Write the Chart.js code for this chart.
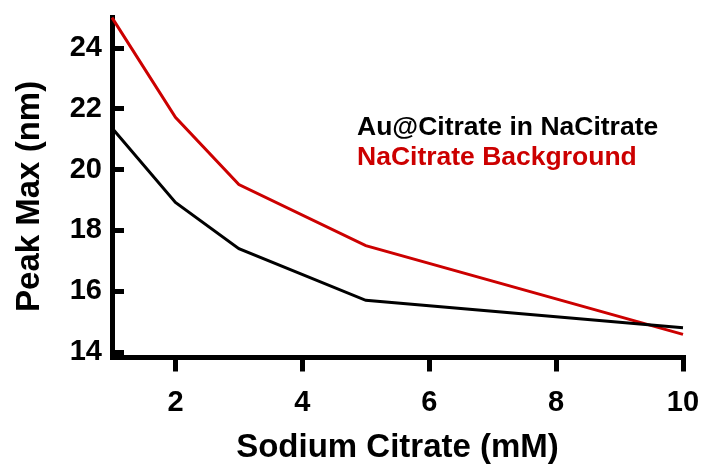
<!DOCTYPE html>
<html>
<head>
<meta charset="utf-8">
<script src="https://cdn.jsdelivr.net/npm/chart.js@4/dist/chart.umd.min.js"></script>
<style>
  html, body { margin: 0; padding: 0; background: #fff; }
  #wrap { width: 701px; height: 468px; position: relative; }
</style>
</head>
<body>
<div id="wrap"><canvas id="c" width="701" height="468"></canvas></div>
<script>
// Sodium citrate concentration (mM)
const concentrations = [1, 2, 3, 5, 10];
// Peak maximum (nm) of gold nanoparticles dispersed in sodium citrate
const auCitratePeak = [21.37, 18.92, 17.40, 15.70, 14.80];
// Peak maximum (nm) of the sodium citrate background alone
const backgroundPeak = [25.00, 21.72, 19.51, 17.50, 14.58];

const seriesLabels = ['Au@Citrate in NaCitrate', 'NaCitrate Background'];
const seriesColors = ['#000000', '#CC0000'];

const xTicks = [2, 4, 6, 8, 10];
const yTicks = [14, 16, 18, 20, 22, 24];

const FONT = '"Liberation Sans", Arial, Helvetica, sans-serif';

const toPoints = (ys) => concentrations.map((x, i) => ({ x, y: ys[i] }));

// Fixed scale sizes; no extra room reserved for overhanging tick labels
const fixSize = (prop, size) => (s) => {
  s[prop] = size;
  s.paddingTop = 0; s.paddingBottom = 0; s.paddingLeft = 0; s.paddingRight = 0;
};

// Colored legend text drawn inside the plot area
const textLegend = {
  id: 'textLegend',
  afterDatasetsDraw(chart) {
    const { ctx, chartArea } = chart;
    ctx.save();
    ctx.font = 'bold 26.5px ' + FONT;
    ctx.textAlign = 'left';
    ctx.textBaseline = 'alphabetic';
    chart.data.datasets.forEach((ds, i) => {
      ctx.fillStyle = ds.borderColor;
      ctx.fillText(ds.label, chartArea.left + 245, chartArea.top + 118 + i * 30);
    });
    ctx.restore();
  }
};

new Chart(document.getElementById('c'), {
  type: 'line',
  data: {
    datasets: [
      {
        label: seriesLabels[0],
        data: toPoints(auCitratePeak),
        borderColor: seriesColors[0],
        borderWidth: 3,
        pointRadius: 0,
        tension: 0,
        clip: false
      },
      {
        label: seriesLabels[1],
        data: toPoints(backgroundPeak),
        borderColor: seriesColors[1],
        borderWidth: 3,
        pointRadius: 0,
        tension: 0,
        clip: false
      }
    ]
  },
  options: {
    responsive: false,
    animation: false,
    layout: { padding: { top: 17, right: 18, left: 0, bottom: 0 } },
    plugins: { legend: { display: false }, tooltip: { enabled: false } },
    scales: {
      x: {
        type: 'linear',
        min: 1,
        max: 10,
        afterBuildTicks: (s) => { s.ticks = xTicks.map(v => ({ value: v })); },
        afterFit: fixSize('height', 110.5),
        border: { display: true, color: '#000', width: 5 },
        grid: { drawOnChartArea: false, color: '#000', tickColor: '#000', tickWidth: 5, lineWidth: 5, tickLength: 14 },
        ticks: { color: '#000', padding: 14, maxRotation: 0, font: { family: FONT, size: 29, weight: 'bold' } },
        title: { display: true, text: 'Sodium Citrate (mM)', color: '#000', padding: { top: 0, bottom: 0 }, font: { family: FONT, size: 33, weight: 'bold' } }
      },
      y: {
        type: 'linear',
        min: 13.82,
        max: 25.02,
        afterBuildTicks: (s) => { s.ticks = yTicks.map(v => ({ value: v })); },
        afterFit: fixSize('width', 112),
        border: { display: true, color: '#000', width: 5 },
        grid: { drawOnChartArea: false, color: '#000', tickColor: '#000', tickWidth: 5, lineWidth: 5, tickLength: -12 },
        ticks: { color: '#000', padding: 22, font: { family: FONT, size: 29, weight: 'bold' } },
        // trailing spaces nudge the rotated title toward the origin
        title: { display: true, text: 'Peak Max (nm)  ', color: '#000', padding: { top: 10, bottom: 0 }, font: { family: FONT, size: 33, weight: 'bold' } }
      }
    }
  },
  plugins: [textLegend]
});
</script>
</body>
</html>
